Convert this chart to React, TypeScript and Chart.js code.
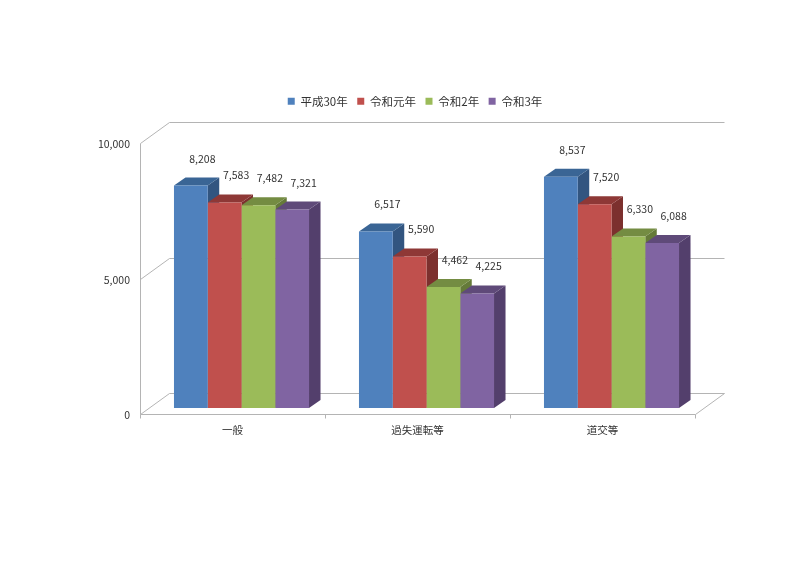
import React, { useEffect, useRef } from "react";
import { Chart, registerables } from "chart.js";

Chart.register(...registerables);

const categories = ["一般", "過失運転等", "道交等"];
const seriesNames = ["平成30年", "令和元年", "令和2年", "令和3年"];
const heisei30 = [8208, 6517, 8537];
const reiwa1 = [7583, 5590, 7520];
const reiwa2 = [7482, 4462, 6330];
const reiwa3 = [7321, 4225, 6088];
const seriesValues = [heisei30, reiwa1, reiwa2, reiwa3];
const frontColors = ["#4f81bd", "#c0504d", "#9bbb59", "#8064a2"];
const topColors = ["#3a6595", "#8e3836", "#748c42", "#5f4a79"];
const sideColors = ["#325580", "#7c302e", "#657a39", "#533f6c"];
const yMax = 10000;
const yStep = 5000;

const FONT = '"Noto Sans CJK JP", "Noto Sans", sans-serif';
const TEXT = "#333333";
const WALL = "#b4b4b4";

// depth of the bars (plane of the bars to back of the bar)
const BAR_DX = 11.5;
const BAR_DY = 8;
// offsets of the floor's front edge and back edge, relative to the bars' plane
const FRONT_DX = -9;
const FRONT_DY = 6;
const BACK_DX = 19.5;
const BACK_DY = -15;

const walls3d = {
  id: "walls3d",
  afterLayout(chart: any) {
    // the legend sits centred over the picture's own span, not the canvas
    const l = chart.legend;
    l.left = 126;
    l.right = 704;
    l.top = 86;
  },
  beforeDatasetsDraw(chart: any) {
    const { ctx } = chart;
    const xs = chart.scales.x;
    const ys = chart.scales.y;
    const left = xs.left;
    const right = xs.right;
    ctx.save();
    ctx.strokeStyle = WALL;
    ctx.lineWidth = 1;
    const line = (pts: number[][]) => {
      ctx.beginPath();
      pts.forEach((p, i) =>
        i ? ctx.lineTo(Math.round(p[0]) + 0.5, Math.round(p[1]) + 0.5) : ctx.moveTo(Math.round(p[0]) + 0.5, Math.round(p[1]) + 0.5)
      );
      ctx.stroke();
    };
    // gridlines across the left wall and the back wall
    ys.ticks.forEach((t: any) => {
      const y = ys.getPixelForValue(t.value);
      line([
        [left + FRONT_DX, y + FRONT_DY],
        [left + BACK_DX, y + BACK_DY],
        [right + BACK_DX, y + BACK_DY],
      ]);
    });
    const y0 = ys.getPixelForValue(0);
    const yTop = ys.getPixelForValue(yMax);
    // left wall's front edge
    line([
      [left + FRONT_DX, yTop + FRONT_DY],
      [left + FRONT_DX, y0 + FRONT_DY],
    ]);
    // floor
    line([
      [left + FRONT_DX, y0 + FRONT_DY],
      [right + FRONT_DX, y0 + FRONT_DY],
      [right + BACK_DX, y0 + BACK_DY],
    ]);
    // category ticks
    const n = categories.length;
    for (let i = 0; i <= n; i++) {
      const x = left + ((right - left) * i) / n + FRONT_DX;
      line([
        [x, y0 + FRONT_DY],
        [x, y0 + FRONT_DY + 4],
      ]);
    }
    // sides and tops of the bars, left to right; the fronts are drawn over them by the bar controller
    for (let c = 0; c < n; c++) {
      chart.data.datasets.forEach((_: any, d: number) => {
        const el = chart.getDatasetMeta(d).data[c];
        const l = el.x - el.width / 2;
        const r = el.x + el.width / 2;
        ctx.fillStyle = sideColors[d];
        ctx.beginPath();
        ctx.moveTo(r, el.y);
        ctx.lineTo(r + BAR_DX, el.y - BAR_DY);
        ctx.lineTo(r + BAR_DX, el.base - BAR_DY);
        ctx.lineTo(r, el.base);
        ctx.closePath();
        ctx.fill();
        ctx.fillStyle = topColors[d];
        ctx.beginPath();
        ctx.moveTo(l, el.y);
        ctx.lineTo(l + BAR_DX, el.y - BAR_DY);
        ctx.lineTo(r + BAR_DX, el.y - BAR_DY);
        ctx.lineTo(r, el.y);
        ctx.closePath();
        ctx.fill();
      });
    }
    ctx.restore();
  },
  afterDatasetsDraw(chart: any) {
    const { ctx } = chart;
    ctx.save();
    ctx.font = `10.5px ${FONT}`;
    ctx.fillStyle = TEXT;
    ctx.textAlign = "center";
    ctx.textBaseline = "middle";
    chart.data.datasets.forEach((ds: any, d: number) => {
      chart.getDatasetMeta(d).data.forEach((el: any, c: number) => {
        ctx.fillText(ds.data[c].toLocaleString("en-US"), el.x + 11.5, el.y - 27);
      });
    });
    ctx.restore();
  },
};

export default function App() {
  const ref = useRef<HTMLCanvasElement>(null);
  useEffect(() => {
    document.body.style.margin = "0";
    document.body.style.background = "#ffffff";
    const chart = new Chart(ref.current as HTMLCanvasElement, {
      type: "bar",
      data: {
        labels: categories,
        datasets: seriesNames.map((name, i) => ({
          label: name,
          data: seriesValues[i],
          backgroundColor: frontColors[i],
          borderWidth: 0,
          categoryPercentage: 0.73,
          barPercentage: 1,
        })),
      },
      options: {
        animation: false,
        responsive: false,
        devicePixelRatio: 1,
        layout: { autoPadding: false, padding: { left: 0, right: 96, top: 106, bottom: 0 } },
        plugins: {
          tooltip: { enabled: false },
          legend: {
            display: true,
            position: "top",
            labels: {
              boxWidth: 7,
              boxHeight: 7,
              padding: 9.5,
              color: TEXT,
              font: { family: FONT, size: 11.5 },
            },
          },
        },
        scales: {
          x: {
            grid: { display: false, drawTicks: false },
            border: { display: false },
            ticks: { color: TEXT, font: { family: FONT, size: 10.5 }, padding: 16, labelOffset: FRONT_DX, maxRotation: 0 },
            afterFit: (s: any) => {
              s.height = 158;
            },
          },
          y: {
            min: 0,
            max: yMax,
            grid: { display: false, drawTicks: false },
            border: { display: false },
            ticks: {
              stepSize: yStep,
              color: TEXT,
              font: { family: FONT, size: 10.5 },
              padding: 19,
              labelOffset: FRONT_DY + 1.5,
              callback: (v: any) => Number(v).toLocaleString("en-US"),
            },
            afterFit: (s: any) => {
              s.width = 149;
            },
          },
        },
      } as any,
      plugins: [walls3d],
    });
    return () => chart.destroy();
  }, []);
  return (
    <div style={{ position: "absolute", left: 0, top: 0, width: 800, height: 566, background: "#fff" }}>
      <canvas ref={ref} width={800} height={566} style={{ display: "block" }} />
    </div>
  );
}
